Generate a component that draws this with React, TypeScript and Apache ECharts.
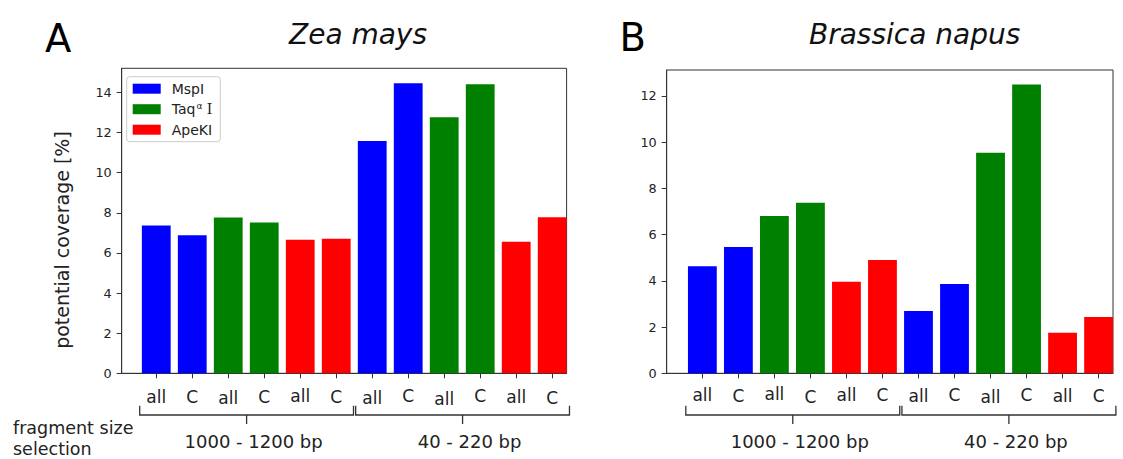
import React, { useEffect, useRef } from "react";
import * as echarts from "echarts";

// Bar labels along each x axis (one per bar, left to right)
const binLabels = ["all", "C", "all", "C", "all", "C", "all", "C", "all", "C", "all", "C"];
// Fragment size selection groups (bars 0-5 and 6-11)
const fragmentGroups = ["1000 - 1200 bp", "40 - 220 bp"];
const groupRanges = [
  [0, 5],
  [6, 11],
];

// Enzymes and the bar slots they occupy
const enzymes = ["MspI", "Taqα I", "ApeKI"];
const enzymeSlots = [
  [0, 1, 6, 7],
  [2, 3, 8, 9],
  [4, 5, 10, 11],
];
const enzymeColors = ["#0000ff", "#008000", "#ff0000"];

// Potential coverage [%], Zea mays: all, C (1000-1200 bp), all, C (40-220 bp)
const zeaMspI = [7.36, 6.88, 11.58, 14.46];
const zeaTaq = [7.76, 7.52, 12.76, 14.41];
const zeaApeKI = [6.66, 6.71, 6.56, 7.78];

// Potential coverage [%], Brassica napus
const brassicaMspI = [4.63, 5.46, 2.7, 3.86];
const brassicaTaq = [6.8, 7.38, 9.54, 12.49];
const brassicaApeKI = [3.96, 4.9, 1.75, 2.44];

const zeaTicks = [0, 2, 4, 6, 8, 10, 12, 14];
const brassicaTicks = [0, 2, 4, 6, 8, 10, 12];
const barSlots = [0, 1, 2, 3, 4, 5, 6, 7, 8, 9, 10, 11];

const FONT = "DejaVu Sans, Verdana, sans-serif";
const INK = "#222222";
const AXIS = "#333333";

const panels = [
  {
    letter: "A",
    letterX: 45,
    letterY: 38,
    title: "Zea mays",
    titleX: 358,
    titleY: 34.7,
    values: [zeaMspI, zeaTaq, zeaApeKI],
    ticks: zeaTicks,
    grid: { left: 121.7, top: 68.3, width: 444.9, height: 305 },
    xMin: -0.96,
    xMax: 11.4,
    yMax: 15.2,
    labelMargin: 13,
    // small hand-placed vertical nudges of the bar labels (px, down is positive)
    labelNudge: [0, 0, 1.5, 0, -1, 0, 1, -1, 2, -1, 0, 1.5],
  },
  {
    letter: "B",
    letterX: 619.4,
    letterY: 37.5,
    title: "Brassica napus",
    titleX: 914.6,
    titleY: 34.7,
    values: [brassicaMspI, brassicaTaq, brassicaApeKI],
    ticks: brassicaTicks,
    grid: { left: 666.7, top: 70, width: 446.3, height: 303.3 },
    xMin: -0.99,
    xMax: 11.4,
    yMax: 13.12,
    labelMargin: 12,
    labelNudge: [-1, 0, -1.5, 1.5, -0.5, -0.5, 0, -1, 1.5, -1, 0.5, 0],
  },
];

export default function App() {
  const ref = useRef<HTMLDivElement>(null);

  useEffect(() => {
    if (!ref.current) return;
    const chart = echarts.init(ref.current, null, { renderer: "svg" });

    const grids = panels.map((p) => ({
      ...p.grid,
      show: true,
      borderColor: AXIS,
      borderWidth: 1,
      backgroundColor: "transparent",
      containLabel: false,
    }));

    const xAxes = panels.map((p, i) => {
      const rich: Record<string, any> = {};
      p.labelNudge.forEach((d, k) => {
        rich["t" + k] = {
          fontSize: 17,
          fontFamily: FONT,
          color: INK,
          padding: [2 + d, 0, 0, 0],
        };
      });
      return {
        type: "value",
        gridIndex: i,
        min: p.xMin,
        max: p.xMax,
        splitLine: { show: false },
        axisLine: { show: true, onZero: false, lineStyle: { color: AXIS, width: 1 } },
        axisTick: {
          show: true,
          length: 5,
          inside: false,
          customValues: barSlots,
          lineStyle: { color: AXIS, width: 1 },
        },
        axisLabel: {
          show: true,
          customValues: barSlots,
          margin: p.labelMargin,
          fontSize: 17,
          fontFamily: FONT,
          color: INK,
          rich,
          formatter: (v: number) => {
            const k = Math.round(v);
            return "{t" + k + "|" + (binLabels[k] ?? "") + "}";
          },
        },
      };
    });

    const yAxes = panels.map((p, i) => ({
      type: "value",
      gridIndex: i,
      min: 0,
      max: p.yMax,
      splitLine: { show: false },
      axisLine: { show: true, onZero: false, lineStyle: { color: AXIS, width: 1 } },
      axisTick: {
        show: true,
        length: 5,
        inside: false,
        customValues: p.ticks,
        lineStyle: { color: AXIS, width: 1 },
      },
      axisLabel: {
        show: true,
        customValues: p.ticks,
        margin: 10,
        fontSize: 12.8,
        fontFamily: FONT,
        color: INK,
      },
    }));

    const series: any[] = [];
    panels.forEach((p, pi) => {
      const pxPerUnit = p.grid.width / (p.xMax - p.xMin);
      enzymes.forEach((name, ei) => {
        series.push({
          type: "bar",
          name,
          xAxisIndex: pi,
          yAxisIndex: pi,
          barWidth: pxPerUnit * 0.8,
          barGap: "-100%",
          itemStyle: { color: enzymeColors[ei] },
          data: enzymeSlots[ei].map((slot, k) => [slot, p.values[ei][k]]),
        });
      });
    });

    chart.setOption({
      animation: false,
      grid: grids,
      xAxis: xAxes,
      yAxis: yAxes,
      series,
      legend: {
        show: true,
        data: enzymes,
        orient: "vertical",
        left: 126.7,
        top: 76.7,
        icon: "rect",
        itemWidth: 28,
        itemHeight: 10,
        itemGap: 4.5,
        padding: [4, 8, 4, 6],
        borderColor: "#cccccc",
        borderWidth: 1,
        borderRadius: 3,
        backgroundColor: "#ffffff",
        selectedMode: false,
        formatter: (name: string) =>
          name === "Taqα I" ? "{n|Taq}{s|α}{i| I}" : name,
        textStyle: {
          fontSize: 14,
          fontFamily: FONT,
          color: INK,
          lineHeight: 16,
          padding: [0, 0, 0, 6],
          rich: {
            n: { fontSize: 14, fontFamily: FONT, color: INK, lineHeight: 16 },
            s: {
              fontSize: 9,
              fontFamily: FONT,
              color: INK,
              lineHeight: 16,
              verticalAlign: "top",
              padding: [0, 0, 0, 1],
            },
            i: { fontSize: 14, fontFamily: "DejaVu Serif, serif", color: INK, lineHeight: 16 },
          },
        },
      },
    });

    // Decorations: panel letters, titles, y label, group brackets
    const graphics: any[] = [];
    panels.forEach((p, pi) => {
      const toPx = (x: number, y: number) =>
        chart.convertToPixel({ xAxisIndex: pi, yAxisIndex: pi }, [x, y]) as number[];
      const baseY = toPx(0, 0)[1];

      groupRanges.forEach(([a, b], gi) => {
        const x0 = toPx(a - 0.46, 0)[0];
        const x1 = toPx(b + 0.48, 0)[0];
        const xc = (x0 + x1) / 2;
        const yLine = baseY + 41.7;
        graphics.push({
          type: "polyline",
          shape: {
            points: [
              [x0, baseY + 32.5],
              [x0, yLine],
              [x1, yLine],
              [x1, baseY + 32.5],
            ],
          },
          style: { stroke: AXIS, lineWidth: 1.3, fill: null },
          silent: true,
        });
        graphics.push({
          type: "line",
          shape: { x1: xc, y1: yLine, x2: xc, y2: baseY + 50.7 },
          style: { stroke: AXIS, lineWidth: 1.3 },
          silent: true,
        });
        graphics.push({
          type: "text",
          x: xc + 7,
          y: baseY + 68.5,
          style: {
            text: fragmentGroups[gi],
            fontSize: 18,
            fontFamily: FONT,
            fill: INK,
            align: "center",
            verticalAlign: "middle",
          },
          silent: true,
        });
      });

      graphics.push({
        type: "text",
        x: p.letterX,
        y: p.letterY,
        style: {
          text: p.letter,
          fontSize: 38.5,
          fontFamily: FONT,
          fill: "#000000",
          align: "left",
          verticalAlign: "middle",
        },
        silent: true,
      });
      graphics.push({
        type: "text",
        x: p.titleX,
        y: p.titleY,
        style: {
          text: p.title,
          fontSize: 28,
          fontStyle: "italic",
          fontFamily: FONT,
          fill: "#111111",
          align: "center",
          verticalAlign: "middle",
        },
        silent: true,
      });
    });

    graphics.push({
      type: "text",
      x: 62,
      y: 240,
      rotation: Math.PI / 2,
      style: {
        text: "potential coverage [%]",
        fontSize: 19,
        fontFamily: FONT,
        fill: INK,
        align: "center",
        verticalAlign: "middle",
      },
      silent: true,
    });
    graphics.push({
      type: "text",
      x: 13,
      y: 428,
      style: {
        text: "fragment size",
        fontSize: 17.5,
        fontFamily: FONT,
        fill: INK,
        align: "left",
        verticalAlign: "middle",
      },
      silent: true,
    });
    graphics.push({
      type: "text",
      x: 13,
      y: 449,
      style: {
        text: "selection",
        fontSize: 17.5,
        fontFamily: FONT,
        fill: INK,
        align: "left",
        verticalAlign: "middle",
      },
      silent: true,
    });

    chart.setOption({ graphic: graphics });

    return () => chart.dispose();
  }, []);

  return (
    <div
      ref={ref}
      style={{ position: "fixed", left: 0, top: 0, width: 1123, height: 459, background: "#ffffff" }}
    />
  );
}
